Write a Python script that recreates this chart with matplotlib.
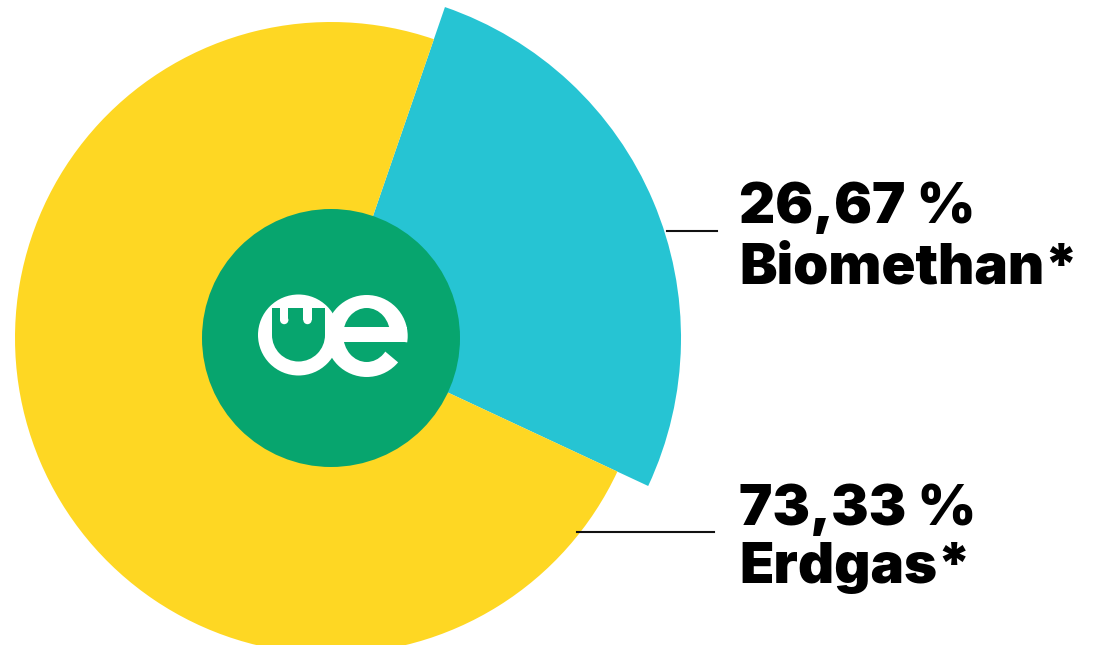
import matplotlib
matplotlib.use("Agg")
import matplotlib.pyplot as plt
from matplotlib.patches import Circle, Rectangle, Wedge, Ellipse

# ---- data ----
categories = ["Biomethan*", "Erdgas*"]
shares = [26.67, 73.33]
colors = ["#26C4D3", "#FED723"]
green = "#07A56E"

W, H = 1111, 645
fig = plt.figure(figsize=(W / 100, H / 100), dpi=100)
ax = fig.add_axes([0, 0, 1, 1])

def Y(py):
    return H - py

cx, cy = 331, Y(338)
wedges, _ = ax.pie(shares, colors=colors, startangle=71.0, counterclock=False,
                   radius=316, center=(cx, cy), wedgeprops=dict(linewidth=0))
wedges[0].set_radius(350)   # highlighted slice sticks out

ax.add_patch(Circle((cx, cy), 129, color=green, lw=0, zorder=3))

# ---- logo "oe" ----
z = 4
ox, oy = 298.5, Y(335)
ax.add_patch(Circle((ox, oy), 40.5, color="white", lw=0, zorder=z))
ex, ey = 366.7, Y(336)
ax.add_patch(Circle((ex, ey), 41, color="white", lw=0, zorder=z))
# o interior (plug face)
ax.add_patch(Rectangle((272, Y(335)), 53, 27, color=green, lw=0, zorder=z + 1))
ax.add_patch(Circle((ox, oy), 26.5, color=green, lw=0, zorder=z + 1))
# prongs
for px0 in (280, 303.3):
    ax.add_patch(Rectangle((px0, Y(320)), 8.4, 14, color="white", lw=0, zorder=z + 2))
    ax.add_patch(Circle((px0 + 4.2, Y(320)), 4.2, color="white", lw=0, zorder=z + 2))
# e interior
ax.add_patch(Ellipse((ex, ey + 1), 47, 54, color=green, lw=0, zorder=z + 1))
ax.add_patch(Wedge((ex, ey), 46, -40, -9, color=green, lw=0, zorder=z + 1))
ax.add_patch(Rectangle((342, Y(342)), 65, 15, color="white", lw=0, zorder=z + 2))

# ---- labels ----
font = dict(family=["Inter", "DejaVu Sans"], weight="black", fontsize=40.5, color="black",
            va="baseline", ha="left")
def pct(v):
    return f"{v:.2f}".replace(".", ",") + " %"

# Biomethan
ax.plot([667, 717], [Y(231), Y(231)], color="#111111", lw=1.5, zorder=2)
ax.text(739, Y(223), pct(shares[0]), **font)
ax.text(739, Y(283), categories[0], **font)
# Erdgas
ax.plot([577, 714], [Y(532), Y(532)], color="#111111", lw=1.5, zorder=2)
ax.text(739, Y(525), pct(shares[1]), **font)
ax.text(739, Y(583), categories[1], **font)

ax.set_xlim(0, W)
ax.set_ylim(0, H)
ax.set_aspect("equal")
ax.axis("off")
fig.savefig("out.png", dpi=100)
